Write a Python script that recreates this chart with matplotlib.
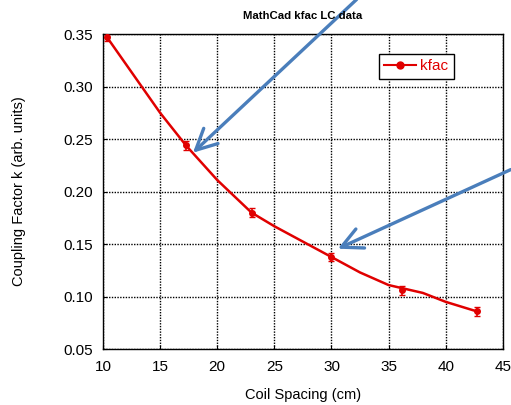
import numpy as np
import matplotlib
matplotlib.use('Agg')
from matplotlib import pyplot as plt

plt.rcParams['font.family'] = ['Liberation Sans', 'DejaVu Sans']

# measured points
spacing = [10.35, 17.26, 23.0, 29.95, 36.2, 42.7]
kfac = [0.347, 0.244, 0.180, 0.138, 0.106, 0.086]
kfac_err = [0.004, 0.004, 0.004, 0.004, 0.004, 0.004]

# smooth curve
curve_x = [10.35, 15.0, 17.26, 20.0, 23.0, 25.0, 29.95, 32.5, 35.0, 38.0, 40.0, 42.7]
curve_y = [0.347, 0.275, 0.244, 0.211, 0.180, 0.167, 0.138, 0.123, 0.111, 0.1035, 0.095, 0.086]

# arrows (tail -> head, data coords)
arrow_tails = [(32.2, 0.383), (45.7, 0.221)]
arrow_heads = [(17.87, 0.237), (30.56, 0.1456)]

red = '#e00000'
blue = '#4a7ebb'

fig = plt.figure(figsize=(5.11, 4.05), dpi=100)
ax = fig.add_axes([0.2016, 0.138, 0.7824, 0.7778])

ax.plot(curve_x, curve_y, color=red, lw=1.8, zorder=3)
ax.errorbar(spacing, kfac, yerr=kfac_err, fmt='o', color=red, ms=4,
            capsize=2, elinewidth=1.2, zorder=4)
# legend handle
ax.plot([], [], color=red, marker='o', ms=5, lw=1.5, label='kfac')

ax.set_xlim(10, 45)
ax.set_ylim(0.05, 0.35)
ax.set_xticks(np.arange(10, 46, 5))
ax.set_yticks(np.arange(0.05, 0.351, 0.05))
ax.set_yticklabels(['%.2f' % v for v in np.arange(0.05, 0.351, 0.05)])
ax.tick_params(direction='in', labelsize=11, length=3, color='black')
ax.tick_params(axis='x', pad=8)
ax.tick_params(axis='y', pad=7)
ax.grid(True, color='black', linestyle=(0, (1, 1)), linewidth=1.0)
for s in ax.spines.values():
    s.set_linewidth(1.0)

ax.set_xlabel('Coil Spacing (cm)', fontsize=10.5, labelpad=10)
ax.set_ylabel('Coupling Factor k (arb. units)', fontsize=10.5, labelpad=27)
ax.set_title('MathCad kfac LC data', fontsize=8.2, fontweight='bold', pad=11)

leg = ax.legend(loc='upper left', bbox_to_anchor=(0.69, 0.937), fontsize=11,
                fancybox=False, framealpha=1, edgecolor='black',
                handlelength=2.1, borderpad=0.35, handletextpad=0.25,
                borderaxespad=0)
for t in leg.get_texts():
    t.set_color(red)
leg.get_frame().set_linewidth(1.0)

for tail, head in zip(arrow_tails, arrow_heads):
    ax.annotate('', xy=head, xytext=tail, xycoords='data', textcoords='data',
                annotation_clip=False,
                arrowprops=dict(arrowstyle='->,head_length=1.5,head_width=0.75',
                                color=blue, lw=2.4, shrinkA=0, shrinkB=0))

fig.savefig('out.png', dpi=100)
